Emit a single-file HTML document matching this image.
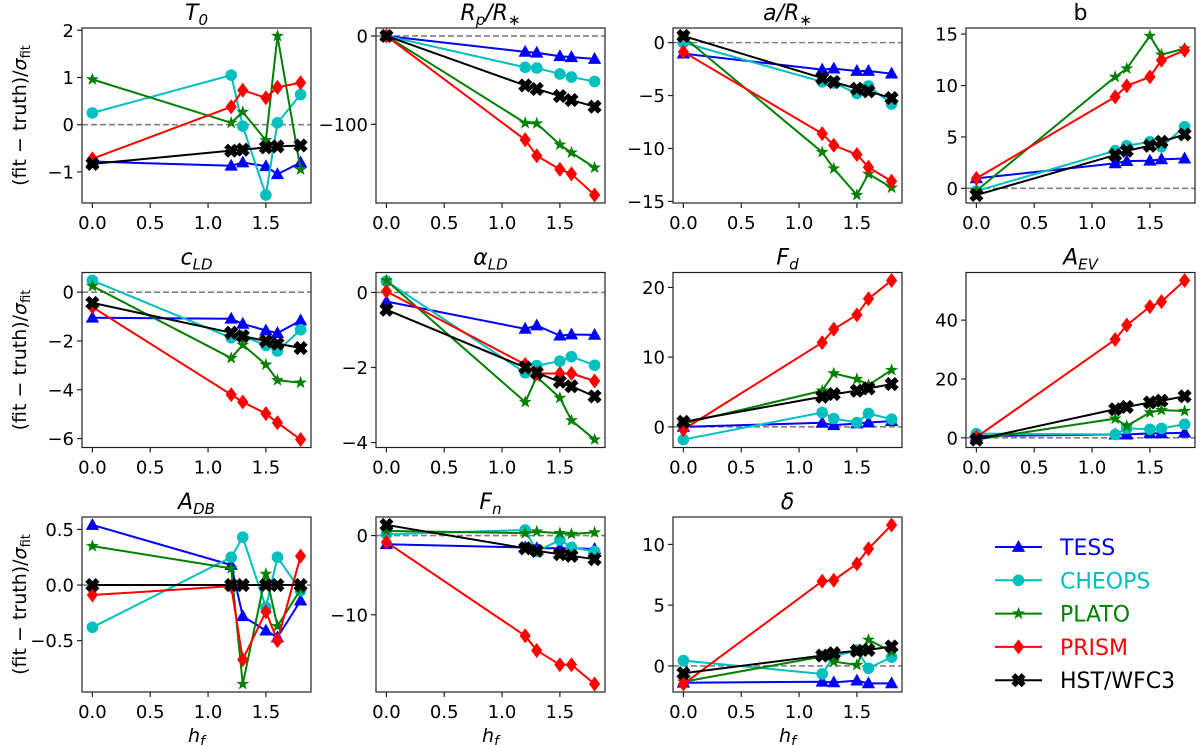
<!DOCTYPE html>
<html><head><meta charset="utf-8"><style>
html,body{margin:0;padding:0;background:#fff}
svg{display:block;font-family:"DejaVu Sans","Liberation Sans",sans-serif}
</style></head><body>
<svg id="fig" width="1200" height="745" viewBox="0 0 1200 745"></svg>
<script>
const xs = [0, 1.2, 1.3, 1.5, 1.6, 1.8];
const seriesNames = ["TESS", "CHEOPS", "PLATO", "PRISM", "HST/WFC3"];
const xTicks = [0, 0.5, 1.0, 1.5];
const xTickLabels = ["0.0", "0.5", "1.0", "1.5"];

const t0TESS = [-0.78, -0.87, -0.8, -0.88, -1.05, -0.8];
const t0CHEOPS = [0.25, 1.05, -0.03, -1.49, 0.04, 0.64];
const t0PLATO = [0.96, 0.04, 0.27, -0.33, 1.88, -0.95];
const t0PRISM = [-0.72, 0.38, 0.73, 0.57, 0.79, 0.89];
const t0HST = [-0.83, -0.55, -0.53, -0.48, -0.46, -0.44];
const t0Ticks = [-1, 0, 1, 2];

const rpTESS = [0, -18, -19, -23, -24, -26];
const rpCHEOPS = [0, -35.5, -36.3, -43, -46.5, -51.5];
const rpPLATO = [0, -98.5, -99, -123, -132, -149];
const rpPRISM = [0, -117.5, -135.5, -151, -156, -180];
const rpHST = [0, -56, -60, -68, -72.5, -80];
const rpTicks = [-100, 0];

const aTESS = [-1.04, -2.55, -2.46, -2.68, -2.68, -2.93];
const aCHEOPS = [0, -3.7, -3.8, -4.8, -4.1, -5.8];
const aPLATO = [0.54, -10.35, -11.9, -14.4, -12.4, -13.7];
const aPRISM = [-0.88, -8.6, -9.7, -10.57, -11.77, -13.1];
const aHST = [0.63, -3.35, -3.72, -4.35, -4.6, -5.24];
const aTicks = [-15, -10, -5, 0];

const bTESS = [0.97, 2.43, 2.65, 2.69, 2.82, 2.9];
const bCHEOPS = [-0.26, 3.66, 4.14, 4.53, 4.05, 5.99];
const bPLATO = [-0.23, 10.84, 11.65, 14.82, 13.0, 13.6];
const bPRISM = [0.97, 8.9, 9.97, 10.84, 12.46, 13.43];
const bHST = [-0.65, 3.24, 3.66, 4.14, 4.53, 5.24];
const bTicks = [0, 5, 10, 15];

const cTESS = [-1.05, -1.09, -1.3, -1.57, -1.68, -1.16];
const cCHEOPS = [0.48, -1.87, -1.81, -2.18, -2.41, -1.54];
const cPLATO = [0.25, -2.7, -2.16, -2.97, -3.61, -3.71];
const cPRISM = [-0.61, -4.2, -4.5, -4.98, -5.35, -6.04];
const cHST = [-0.44, -1.66, -1.8, -2.0, -2.11, -2.29];
const cTicks = [-6, -4, -2, 0];

const alTESS = [-0.24, -0.97, -0.88, -1.15, -1.12, -1.13];
const alCHEOPS = [0.3, -2.14, -1.95, -1.83, -1.71, -1.94];
const alPLATO = [0.32, -2.92, -2.25, -2.81, -3.41, -3.92];
const alPRISM = [0.03, -1.92, -2.16, -2.16, -2.16, -2.36];
const alHST = [-0.46, -2.0, -2.14, -2.38, -2.5, -2.77];
const alTicks = [-4, -2, 0];

const fdTESS = [0.0, 0.58, 0.24, 0.48, 0.62, 0.82];
const fdCHEOPS = [-1.82, 2.06, 1.2, 0.62, 1.92, 1.1];
const fdPLATO = [0.48, 5.18, 7.67, 6.86, 6.0, 8.15];
const fdPRISM = [-0.38, 12.09, 14.0, 16.07, 18.37, 21.0];
const fdHST = [0.72, 4.32, 4.7, 5.18, 5.52, 6.14];
const fdTicks = [0, 10, 20];

const evTESS = [0.6, 1.1, 1.1, 1.5, 1.5, 1.7];
const evCHEOPS = [1.4, 1.1, 3.2, 2.9, 3.2, 4.6];
const evPLATO = [-0.6, 6.5, 4.0, 8.6, 9.4, 9.1];
const evPRISM = [0.2, 33.4, 38.3, 44.6, 46.3, 53.5];
const evHST = [-0.6, 9.7, 10.5, 12.0, 12.6, 14.1];
const evTicks = [0, 20, 40];

const dbTESS = [0.54, 0.18, -0.28, -0.41, -0.47, -0.14];
const dbCHEOPS = [-0.38, 0.25, 0.43, -0.2, 0.25, -0.05];
const dbPLATO = [0.35, 0.15, -0.89, 0.1, -0.37, -0.04];
const dbPRISM = [-0.09, -0.01, -0.67, -0.24, -0.5, 0.26];
const dbHST = [0, 0, 0, 0, 0, 0];
const dbTicks = [-0.5, 0, 0.5];

const fnTESS = [-1.1, -1.5, -1.6, -1.6, -1.6, -1.7];
const fnCHEOPS = [0.17, 0.7, -2.0, -0.55, -1.5, -2.0];
const fnPLATO = [0.6, 0.3, 0.5, 0.3, 0.2, 0.4];
const fnPRISM = [-0.84, -12.65, -14.5, -16.3, -16.3, -18.74];
const fnHST = [1.34, -1.6, -1.93, -2.35, -2.56, -2.98];
const fnTicks = [-10, 0];

const dlTESS = [-1.38, -1.3, -1.35, -1.21, -1.43, -1.43];
const dlCHEOPS = [0.44, -0.66, 0.77, 1.3, -0.19, 0.72];
const dlPLATO = [-1.3, 0.77, 0.36, 0.08, 2.15, 1.18];
const dlPRISM = [-1.49, 6.97, 7.05, 8.4, 9.64, 11.6];
const dlHST = [-0.6, 0.85, 1.05, 1.24, 1.32, 1.6];
const dlTicks = [0, 5, 10];

const NS = "http://www.w3.org/2000/svg";
const svg = document.getElementById("fig");
const colors = ["#0000ff", "#00bfbf", "#008000", "#ff0000", "#000000"];
const markers = ["tri", "circ", "star", "diam", "xmark"];
const lefts = [82, 376, 673, 966], tops = [28, 272.5, 517], W = 229, H = 175;

function mk(tag, attrs, parent) {
  const e = document.createElementNS(NS, tag);
  for (const k in attrs) e.setAttribute(k, attrs[k]);
  (parent || svg).appendChild(e);
  return e;
}
function fmt(v, dec) {
  const s = Math.abs(v).toFixed(dec);
  return (v < 0 ? "\u2212" : "") + s;
}
function markerPath(type, cx, cy) {
  if (type === "tri") { const r = 7; return `M${cx},${cy - r} L${cx + r * 0.95},${cy + r * 0.7} L${cx - r * 0.95},${cy + r * 0.7} Z`; }
  if (type === "diam") { const r = 7.5; return `M${cx},${cy - r} L${cx + r * 0.75},${cy} L${cx},${cy + r} L${cx - r * 0.75},${cy} Z`; }
  if (type === "star") {
    let d = ""; const R = 6.8, r = 2.7;
    for (let i = 0; i < 10; i++) { const a = -Math.PI / 2 + i * Math.PI / 5; const rr = i % 2 ? r : R; d += (i ? "L" : "M") + (cx + rr * Math.cos(a)).toFixed(2) + "," + (cy + rr * Math.sin(a)).toFixed(2); }
    return d + "Z";
  }
  if (type === "xmark") {
    const a = 6.5, b = 3.3; let d = "";
    const pts = [[-a + b, -a], [0, -b], [a - b, -a], [a, -a + b], [b, 0], [a, a - b], [a - b, a], [0, b], [-a + b, a], [-a, a - b], [-b, 0], [-a, -a + b]];
    pts.forEach((p, i) => { d += (i ? "L" : "M") + (cx + p[0]) + "," + (cy + p[1]); });
    return d + "Z";
  }
  return null;
}
function drawMarker(type, cx, cy, color, g) {
  if (type === "circ") return mk("circle", { cx: cx, cy: cy, r: 5.8, fill: color }, g);
  return mk("path", { d: markerPath(type, cx, cy), fill: color, stroke: color, "stroke-width": type === "xmark" ? 0.8 : 0 }, g);
}

function panel(name, title, col, row, data, yTicks, dec) {
  const L = lefts[col], T = tops[row];
  const g = mk("g", {});
  
  
  let mn = Infinity, mx = -Infinity;
  data.forEach(s => s.forEach(v => { mn = Math.min(mn, v); mx = Math.max(mx, v); }));
  const r = mx - mn; const y0 = mn - 0.05 * r, y1 = mx + 0.05 * r;
  const x0 = -0.09, x1 = 1.89;
  const X = v => L + (v - x0) / (x1 - x0) * W;
  const Y = v => T + H - (v - y0) / (y1 - y0) * H;
  const clip = "clip-" + name;
  const cp = mk("clipPath", { id: clip }, g);
  mk("rect", { x: L, y: T, width: W, height: H }, cp);
  const zl = mk("line", { x1: L, x2: L + W, y1: Y(0), y2: Y(0), stroke: "#808080", "stroke-width": 1.6, "stroke-dasharray": "6,3", "clip-path": `url(#${clip})` }, g);
  
  
  data.forEach((s, i) => {
    const sg = mk("g", { "clip-path": `url(#${clip})` }, g);
    
    
    const pts = s.map((v, j) => X(xs[j]).toFixed(2) + "," + Y(v).toFixed(2)).join(" ");
    mk("polyline", { points: pts, fill: "none", stroke: colors[i], "stroke-width": 2, "stroke-linejoin": "round" }, sg);
    s.forEach((v, j) => {
      const m = drawMarker(markers[i], X(xs[j]), Y(v), colors[i], sg);
      
      
    });
  });
  const fr = mk("rect", { x: L, y: T, width: W, height: H, fill: "none", stroke: "#222", "stroke-width": 1.2 }, g);
  
  
  xTicks.forEach((t, i) => {
    mk("line", { x1: X(t), x2: X(t), y1: T + H, y2: T + H + 5, stroke: "#222", "stroke-width": 1.2 }, g);
    const tx = mk("text", { x: X(t), y: T + H + 26, "font-size": 18, "text-anchor": "middle", fill: "#000" }, g);
    tx.textContent = xTickLabels[i];
    
    
  });
  yTicks.forEach(t => {
    mk("line", { x1: L - 5, x2: L, y1: Y(t), y2: Y(t), stroke: "#222", "stroke-width": 1.2 }, g);
    const tx = mk("text", { x: L - 8, y: Y(t) + 6.5, "font-size": 18, "text-anchor": "end", fill: "#000" }, g);
    tx.textContent = fmt(t, dec);
    
    
  });
  const tt = mk("text", { x: L + W / 2, y: T - 8, "font-size": 22, "text-anchor": "middle", fill: "#000" }, g);
  tt.innerHTML = title;
  
  
  if (col === 0) {
    const yl = mk("text", { x: 0, y: 0, "font-size": 19, "text-anchor": "middle", transform: `translate(${L - 56},${T + H / 2}) rotate(-90)` }, g);
    yl.innerHTML = '(fit \u2212 truth)/<tspan font-style="italic">\u03c3</tspan><tspan font-size="13" dy="4">fit</tspan>';
    
    
  }
  if (row === 2) {
    const xl = mk("text", { x: L + W / 2, y: T + H + 50, "font-size": 19, "text-anchor": "middle" }, g);
    xl.innerHTML = '<tspan font-style="italic">h</tspan><tspan font-style="italic" font-size="14" dy="4">f</tspan>';
    
    
  }
}
const sub = s => `<tspan font-size="15" dy="5" font-style="italic">${s}</tspan>`;
panel("t0", `<tspan font-style="italic">T</tspan>${sub("0")}`, 0, 0, [t0TESS, t0CHEOPS, t0PLATO, t0PRISM, t0HST], t0Ticks, 0);
panel("rp", `<tspan font-style="italic">R</tspan>${sub("p")}<tspan dy="-5" font-style="italic">/R</tspan>${sub("\u2217")}`, 1, 0, [rpTESS, rpCHEOPS, rpPLATO, rpPRISM, rpHST], rpTicks, 0);
panel("a", `<tspan font-style="italic">a/R</tspan>${sub("\u2217")}`, 2, 0, [aTESS, aCHEOPS, aPLATO, aPRISM, aHST], aTicks, 0);
panel("b", `b`, 3, 0, [bTESS, bCHEOPS, bPLATO, bPRISM, bHST], bTicks, 0);
panel("cld", `<tspan font-style="italic">c</tspan>${sub("LD")}`, 0, 1, [cTESS, cCHEOPS, cPLATO, cPRISM, cHST], cTicks, 0);
panel("ald", `<tspan font-style="italic">\u03b1</tspan>${sub("LD")}`, 1, 1, [alTESS, alCHEOPS, alPLATO, alPRISM, alHST], alTicks, 0);
panel("fd", `<tspan font-style="italic">F</tspan>${sub("d")}`, 2, 1, [fdTESS, fdCHEOPS, fdPLATO, fdPRISM, fdHST], fdTicks, 0);
panel("aev", `<tspan font-style="italic">A</tspan>${sub("EV")}`, 3, 1, [evTESS, evCHEOPS, evPLATO, evPRISM, evHST], evTicks, 0);
panel("adb", `<tspan font-style="italic">A</tspan>${sub("DB")}`, 0, 2, [dbTESS, dbCHEOPS, dbPLATO, dbPRISM, dbHST], dbTicks, 1);
panel("fn", `<tspan font-style="italic">F</tspan>${sub("n")}`, 1, 2, [fnTESS, fnCHEOPS, fnPLATO, fnPRISM, fnHST], fnTicks, 0);
panel("delta", `<tspan font-style="italic">\u03b4</tspan>`, 2, 2, [dlTESS, dlCHEOPS, dlPLATO, dlPRISM, dlHST], dlTicks, 0);

const lg = mk("g", {});


seriesNames.forEach((n, i) => {
  const y = 547 + i * 33.3;
  const e = mk("g", {}, lg);
  
  
  mk("line", { x1: 995, x2: 1042, y1: y, y2: y, stroke: colors[i], "stroke-width": 2 }, e);
  drawMarker(markers[i], 1018.5, y, colors[i], e);
  const t = mk("text", { x: 1060, y: y + 8, "font-size": 22, fill: colors[i] }, e);
  t.textContent = n;
});
</script>
</body></html>
